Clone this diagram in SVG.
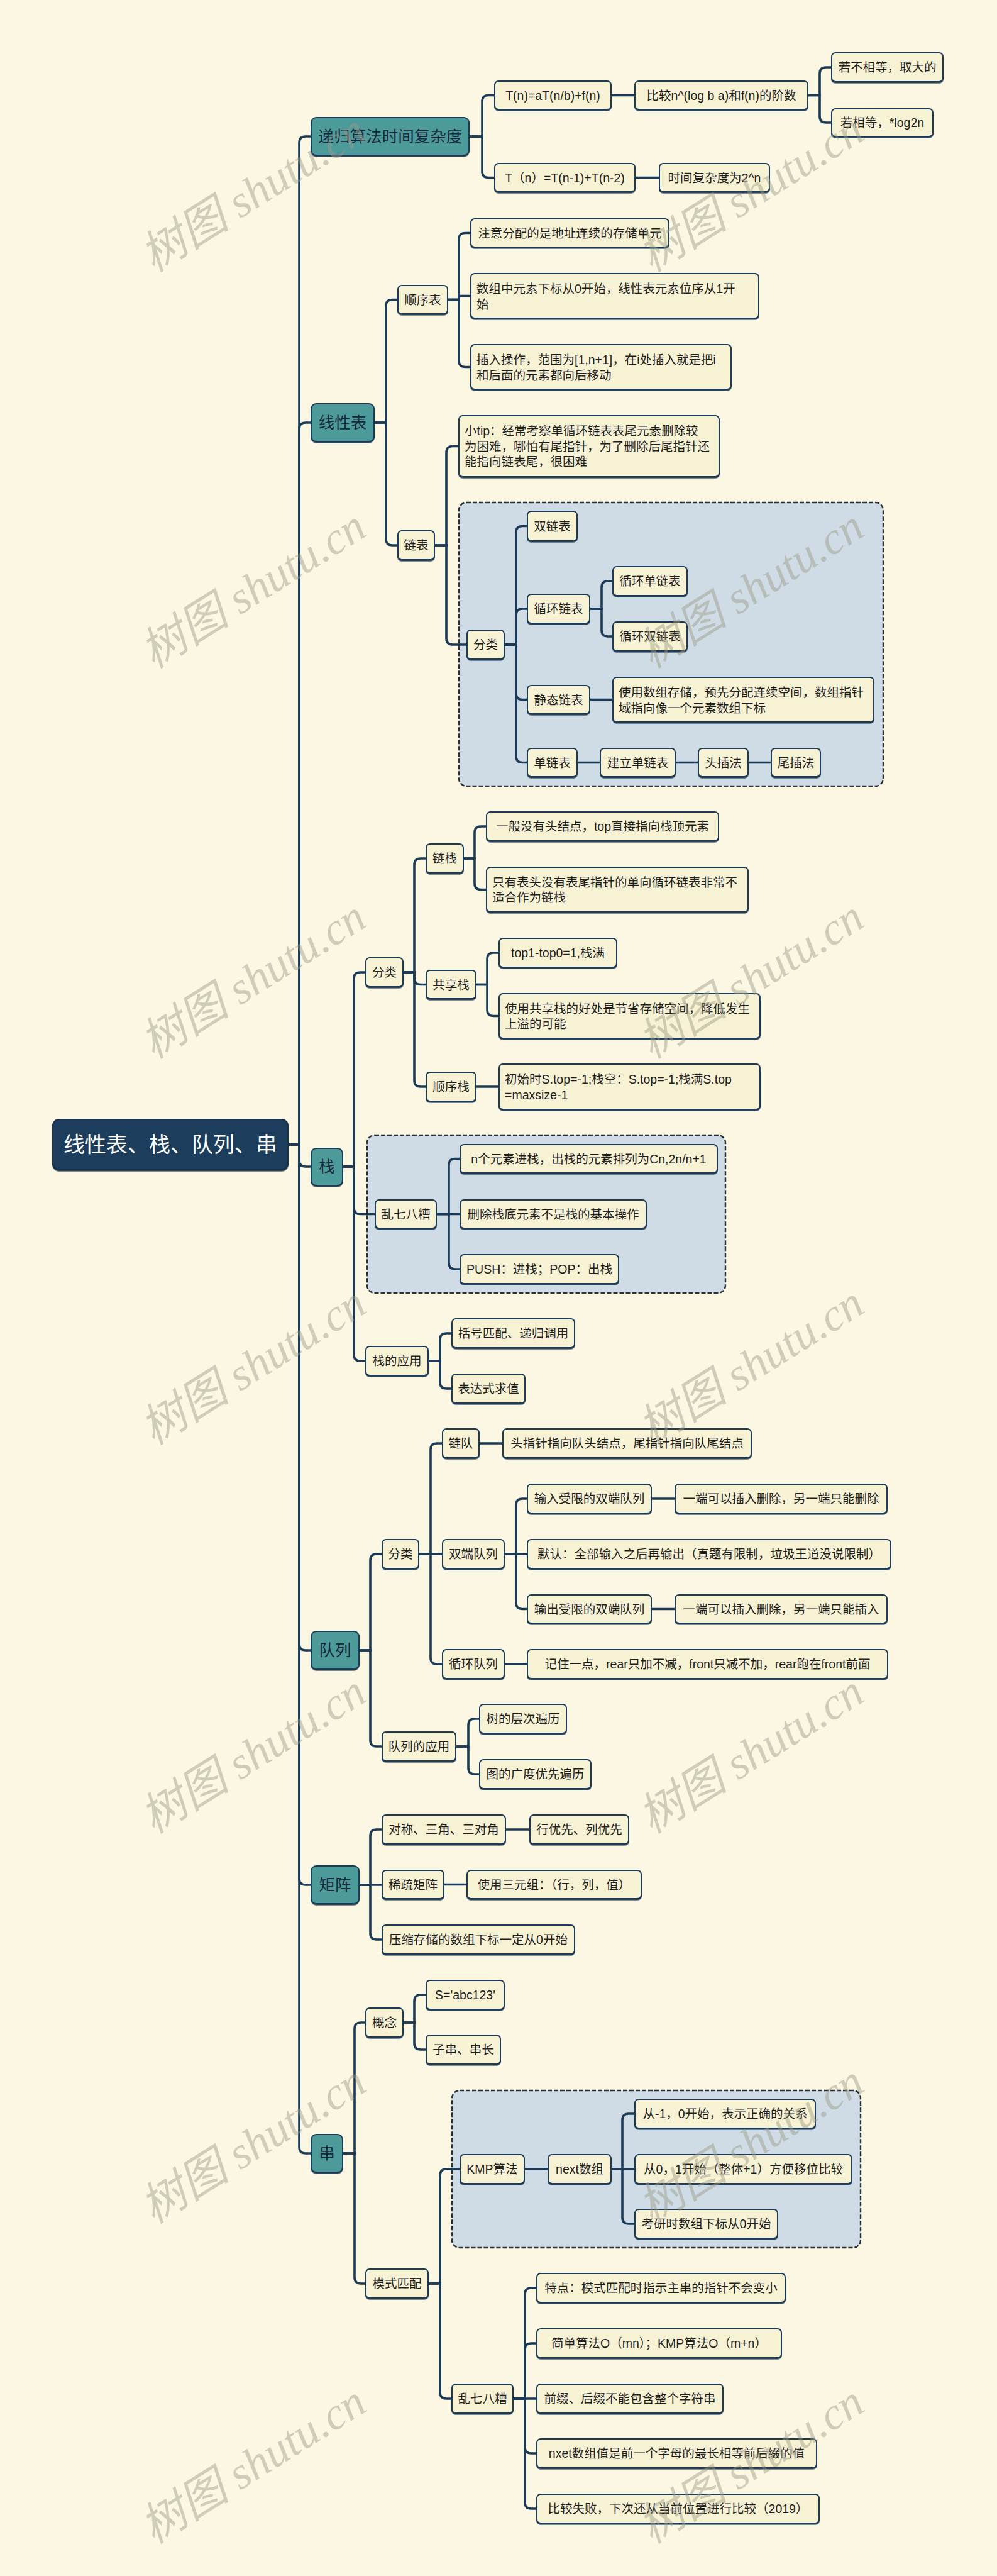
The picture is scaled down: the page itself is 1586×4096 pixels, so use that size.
<svg xmlns="http://www.w3.org/2000/svg" width="1586" height="4096" viewBox="0 0 1586 4096">
<defs>
<filter id="sh" x="-5%" y="-10%" width="110%" height="130%"><feDropShadow dx="0" dy="1.6" stdDeviation="0.4" flood-color="#17324b" flood-opacity="0.9"/></filter>
<style>
.bg{fill:#fbf7e2}
.grp{fill:#cfdce6;stroke:#2a2f33;stroke-width:2.4;stroke-dasharray:7 3}
.lf rect{fill:#f8f2d4;stroke:#1b3a57;stroke-width:2;filter:url(#sh)}
.tl rect{fill:#4d9a9b;stroke:#1b3a57;stroke-width:2;filter:url(#sh)}
.rt rect{fill:#1a3d5c;stroke:#15324b;stroke-width:2;filter:url(#sh)}
text{font-family:"Liberation Sans","Noto Sans CJK SC",sans-serif;fill:#1e1e1e;font-size:19.5px;dominant-baseline:central}
.c{text-anchor:middle}
.tl text{font-size:25.5px;fill:#16293a}
.rt text{font-size:34px;fill:#ffffff}
#connectors path{fill:none;stroke:#1b3a57;stroke-width:3.6;stroke-linecap:round}
.wm{font-family:"Liberation Serif","Noto Sans CJK SC",serif;font-style:italic;font-size:72px;fill:#9c9a86;opacity:0.45;text-anchor:middle;dominant-baseline:auto}
</style>
</defs>
<rect class="bg" x="0" y="0" width="1586" height="4096"/>

<g id="groups">
<rect class="grp" x="730" y="799" width="675" height="451" rx="12"/>
<rect class="grp" x="584" y="1805" width="570" height="251" rx="12"/>
<rect class="grp" x="719" y="3324" width="650" height="250" rx="12"/>
</g>

<g id="connectors">
<path d="M458 1820H476V227Q476 217 486 217H495"/>
<path d="M458 1820H476V682Q476 672 486 672H495"/>
<path d="M458 1820H476V1845Q476 1855 486 1855H495"/>
<path d="M458 1820H476V2614Q476 2624 486 2624H495"/>
<path d="M458 1820H476V2987Q476 2997 486 2997H495"/>
<path d="M458 1820H476V3414Q476 3424 486 3424H495"/>
<path d="M746 217H767V161.5Q767 151.5 777 151.5H787"/>
<path d="M746 217H767V272.5Q767 282.5 777 282.5H787"/>
<path d="M972 151.5H1010"/>
<path d="M1285 151.5H1304V117Q1304 107 1314 107H1323"/>
<path d="M1285 151.5H1304V185Q1304 195 1314 195H1323"/>
<path d="M1010 282.5H1049"/>
<path d="M595 672H614V486.5Q614 476.5 624 476.5H633"/>
<path d="M595 672H614V857Q614 867 624 867H633"/>
<path d="M712 476.5H730V380.5Q730 370.5 740 370.5H749"/>
<path d="M712 476.5H730V473.5Q730 470.5 733 470.5H749"/>
<path d="M712 476.5H730V573.5Q730 583.5 740 583.5H749"/>
<path d="M691 867H710V719.5Q710 709.5 720 709.5H730"/>
<path d="M691 867H710V1015Q710 1025 720 1025H743"/>
<path d="M802 1025H821V846.5Q821 836.5 831 836.5H839"/>
<path d="M802 1025H821V978Q821 968 831 968H839"/>
<path d="M802 1025H821V1102.5Q821 1112.5 831 1112.5H839"/>
<path d="M802 1025H821V1202.5Q821 1212.5 831 1212.5H839"/>
<path d="M938 968H957V934Q957 924 967 924H975"/>
<path d="M938 968H957V1002Q957 1012 967 1012H975"/>
<path d="M938 1112.5H975"/>
<path d="M918 1212.5H955"/>
<path d="M1074 1212.5H1111"/>
<path d="M1190 1212.5H1227"/>
<path d="M545 1855H563V1556Q563 1546 573 1546H582"/>
<path d="M545 1855H563V1920.5Q563 1930.5 573 1930.5H597"/>
<path d="M545 1855H563V2154Q563 2164 573 2164H582"/>
<path d="M641 1546H659V1375Q659 1365 669 1365H678"/>
<path d="M641 1546H659V1555.5Q659 1565.5 669 1565.5H678"/>
<path d="M641 1546H659V1718Q659 1728 669 1728H678"/>
<path d="M737 1365H755V1324Q755 1314 765 1314H774"/>
<path d="M737 1365H755V1404.5Q755 1414.5 765 1414.5H774"/>
<path d="M757 1565.5H775V1525Q775 1515 785 1515H794"/>
<path d="M757 1565.5H775V1605.5Q775 1615.5 785 1615.5H794"/>
<path d="M757 1728H794"/>
<path d="M694 1930.5H714V1852.5Q714 1842.5 724 1842.5H732"/>
<path d="M694 1930.5H732"/>
<path d="M694 1930.5H714V2008Q714 2018 724 2018H732"/>
<path d="M681 2164H700V2130Q700 2120 710 2120H719"/>
<path d="M681 2164H700V2198Q700 2208 710 2208H719"/>
<path d="M571 2624H589V2481Q589 2471 599 2471H608"/>
<path d="M571 2624H589V2767Q589 2777 599 2777H608"/>
<path d="M666 2471H685V2305Q685 2295 695 2295H704"/>
<path d="M666 2471H704"/>
<path d="M666 2471H685V2636Q685 2646 695 2646H704"/>
<path d="M762 2295H800"/>
<path d="M802 2471H821V2393Q821 2383 831 2383H839"/>
<path d="M802 2471H839"/>
<path d="M802 2471H821V2548.5Q821 2558.5 831 2558.5H839"/>
<path d="M1036 2383H1074"/>
<path d="M1036 2558.5H1074"/>
<path d="M802 2646H839"/>
<path d="M725 2777H745V2743Q745 2733 755 2733H763"/>
<path d="M725 2777H745V2811Q745 2821 755 2821H763"/>
<path d="M571 2997H589V2919Q589 2909 599 2909H608"/>
<path d="M571 2997H608"/>
<path d="M571 2997H589V3074Q589 3084 599 3084H608"/>
<path d="M804 2909H843"/>
<path d="M706 2996.5H743"/>
<path d="M545 3424H564V3226Q564 3216 574 3216H582"/>
<path d="M545 3424H564V3621Q564 3631 574 3631H582"/>
<path d="M641 3216H659V3182Q659 3172 669 3172H678"/>
<path d="M641 3216H659V3249Q659 3259 669 3259H678"/>
<path d="M681 3631H700V3459Q700 3449 710 3449H732"/>
<path d="M681 3631H700V3804Q700 3814 710 3814H719"/>
<path d="M834 3449H872"/>
<path d="M972 3449H990V3371Q990 3361 1000 3361H1010"/>
<path d="M972 3449H1010"/>
<path d="M972 3449H990V3526Q990 3536 1000 3536H1010"/>
<path d="M816 3814H835V3648Q835 3638 845 3638H854"/>
<path d="M816 3814H835V3736Q835 3726 845 3726H854"/>
<path d="M816 3814H854"/>
<path d="M816 3814H835V3891Q835 3901 845 3901H854"/>
<path d="M816 3814H835V3979Q835 3989 845 3989H854"/>
</g>

<g id="root" class="rt"><rect x="84" y="1780" width="374" height="80" rx="10"/><text class="c" x="271" y="1820">线性表、栈、队列、串</text></g>

<g id="n-digui" class="tl"><rect x="495" y="187" width="251" height="60" rx="8"/><text class="c" x="620.5" y="217">递归算法时间复杂度</text></g>
<g id="n-tn1" class="lf"><rect x="787" y="129" width="185" height="45" rx="6"/><text class="c" x="879.5" y="151.5">T(n)=aT(n/b)+f(n)</text></g>
<g id="n-bijiao" class="lf"><rect x="1010" y="129" width="275" height="45" rx="6"/><text class="c" x="1147.5" y="151.5">比较n^(log b a)和f(n)的阶数</text></g>
<g id="n-buxd" class="lf"><rect x="1323" y="84" width="177" height="46" rx="6"/><text class="c" x="1411.5" y="107">若不相等，取大的</text></g>
<g id="n-xd" class="lf"><rect x="1323" y="173" width="161" height="44" rx="6"/><text class="c" x="1403.5" y="195">若相等，*log2n</text></g>
<g id="n-tn2" class="lf"><rect x="787" y="260" width="223" height="45" rx="6"/><text class="c" x="898.5" y="282.5">T（n）=T(n-1)+T(n-2)</text></g>
<g id="n-2n" class="lf"><rect x="1049" y="260" width="175" height="45" rx="6"/><text class="c" x="1136.5" y="282.5">时间复杂度为2^n</text></g>

<g id="n-xxb" class="tl"><rect x="495" y="642" width="100" height="60" rx="8"/><text class="c" x="545" y="672">线性表</text></g>
<g id="n-sxb" class="lf"><rect x="633" y="454" width="79" height="45" rx="6"/><text class="c" x="672.5" y="476.5">顺序表</text></g>
<g id="n-zhuyi" class="lf"><rect x="749" y="348" width="315" height="45" rx="6"/><text class="c" x="906.5" y="370.5">注意分配的是地址连续的存储单元</text></g>
<g id="n-shuzu" class="lf"><rect x="749" y="435" width="458" height="71" rx="6"/><text x="758" y="458.5">数组中元素下标从0开始，线性表元素位序从1开</text><text x="758" y="483.5">始</text></g>
<g id="n-charu" class="lf"><rect x="749" y="548" width="414" height="71" rx="6"/><text x="758" y="571.5">插入操作，范围为[1,n+1]，在i处插入就是把i</text><text x="758" y="596.5">和后面的元素都向后移动</text></g>
<g id="n-lb" class="lf"><rect x="633" y="844" width="58" height="46" rx="6"/><text class="c" x="662" y="867">链表</text></g>
<g id="n-tip" class="lf"><rect x="730" y="661" width="414" height="97" rx="6"/><text x="739" y="685">小tip：经常考察单循环链表表尾元素删除较</text><text x="739" y="709.5">为困难，哪怕有尾指针，为了删除后尾指针还</text><text x="739" y="734">能指向链表尾，很困难</text></g>
<g id="n-fl1" class="lf"><rect x="743" y="1002" width="59" height="46" rx="6"/><text class="c" x="772.5" y="1025">分类</text></g>
<g id="n-slb" class="lf"><rect x="839" y="813" width="79" height="47" rx="6"/><text class="c" x="878.5" y="836.5">双链表</text></g>
<g id="n-xhlb" class="lf"><rect x="839" y="945" width="99" height="46" rx="6"/><text class="c" x="888.5" y="968">循环链表</text></g>
<g id="n-xhdlb" class="lf"><rect x="975" y="901" width="118" height="46" rx="6"/><text class="c" x="1034" y="924">循环单链表</text></g>
<g id="n-xhslb" class="lf"><rect x="975" y="989" width="118" height="46" rx="6"/><text class="c" x="1034" y="1012">循环双链表</text></g>
<g id="n-jtlb" class="lf"><rect x="839" y="1090" width="99" height="45" rx="6"/><text class="c" x="888.5" y="1112.5">静态链表</text></g>
<g id="n-jtdesc" class="lf"><rect x="975" y="1077" width="415" height="71" rx="6"/><text x="984" y="1100.5">使用数组存储，预先分配连续空间，数组指针</text><text x="984" y="1125.5">域指向像一个元素数组下标</text></g>
<g id="n-dlb" class="lf"><rect x="839" y="1190" width="79" height="45" rx="6"/><text class="c" x="878.5" y="1212.5">单链表</text></g>
<g id="n-jldlb" class="lf"><rect x="955" y="1190" width="119" height="45" rx="6"/><text class="c" x="1014.5" y="1212.5">建立单链表</text></g>
<g id="n-tcf" class="lf"><rect x="1111" y="1190" width="79" height="45" rx="6"/><text class="c" x="1150.5" y="1212.5">头插法</text></g>
<g id="n-wcf" class="lf"><rect x="1227" y="1190" width="78" height="45" rx="6"/><text class="c" x="1266" y="1212.5">尾插法</text></g>

<g id="n-zhan" class="tl"><rect x="495" y="1826" width="50" height="59" rx="8"/><text class="c" x="520" y="1855">栈</text></g>
<g id="n-fl2" class="lf"><rect x="582" y="1523" width="59" height="46" rx="6"/><text class="c" x="611.5" y="1546">分类</text></g>
<g id="n-lz" class="lf"><rect x="678" y="1342" width="59" height="46" rx="6"/><text class="c" x="707.5" y="1365">链栈</text></g>
<g id="n-lz1" class="lf"><rect x="774" y="1291" width="369" height="46" rx="6"/><text class="c" x="958.5" y="1314">一般没有头结点，top直接指向栈顶元素</text></g>
<g id="n-lz2" class="lf"><rect x="774" y="1379" width="416" height="71" rx="6"/><text x="783" y="1402.5">只有表头没有表尾指针的单向循环链表非常不</text><text x="783" y="1427">适合作为链栈</text></g>
<g id="n-gxz" class="lf"><rect x="678" y="1543" width="79" height="45" rx="6"/><text class="c" x="717.5" y="1565.5">共享栈</text></g>
<g id="n-gxz1" class="lf"><rect x="794" y="1492" width="187" height="46" rx="6"/><text class="c" x="887.5" y="1515">top1-top0=1,栈满</text></g>
<g id="n-gxz2" class="lf"><rect x="794" y="1580" width="415" height="71" rx="6"/><text x="803" y="1603.5">使用共享栈的好处是节省存储空间，降低发生</text><text x="803" y="1628">上溢的可能</text></g>
<g id="n-sxz" class="lf"><rect x="678" y="1705" width="79" height="46" rx="6"/><text class="c" x="717.5" y="1728">顺序栈</text></g>
<g id="n-sxz1" class="lf"><rect x="794" y="1692" width="415" height="72" rx="6"/><text x="803" y="1715.5">初始时S.top=-1;栈空：S.top=-1;栈满S.top</text><text x="803" y="1740.5">=maxsize-1</text></g>
<g id="n-lqbz1" class="lf"><rect x="597" y="1908" width="97" height="45" rx="6"/><text class="c" x="645.5" y="1930.5">乱七八糟</text></g>
<g id="n-lq1" class="lf"><rect x="732" y="1820" width="409" height="45" rx="6"/><text class="c" x="936.5" y="1842.5">n个元素进栈，出栈的元素排列为Cn,2n/n+1</text></g>
<g id="n-lq2" class="lf"><rect x="732" y="1908" width="296" height="45" rx="6"/><text class="c" x="880" y="1930.5">删除栈底元素不是栈的基本操作</text></g>
<g id="n-lq3" class="lf"><rect x="732" y="1995" width="252" height="46" rx="6"/><text class="c" x="858" y="2018">PUSH：进栈；POP：出栈</text></g>
<g id="n-zyy" class="lf"><rect x="582" y="2141" width="99" height="46" rx="6"/><text class="c" x="631.5" y="2164">栈的应用</text></g>
<g id="n-zyy1" class="lf"><rect x="719" y="2097" width="195" height="46" rx="6"/><text class="c" x="816.5" y="2120">括号匹配、递归调用</text></g>
<g id="n-zyy2" class="lf"><rect x="719" y="2185" width="116" height="46" rx="6"/><text class="c" x="777" y="2208">表达式求值</text></g>

<g id="n-dl" class="tl"><rect x="495" y="2594" width="76" height="60" rx="8"/><text class="c" x="533" y="2624">队列</text></g>
<g id="n-fl3" class="lf"><rect x="608" y="2448" width="58" height="46" rx="6"/><text class="c" x="637" y="2471">分类</text></g>
<g id="n-ld" class="lf"><rect x="704" y="2272" width="58" height="46" rx="6"/><text class="c" x="733" y="2295">链队</text></g>
<g id="n-ld1" class="lf"><rect x="800" y="2272" width="395" height="46" rx="6"/><text class="c" x="997.5" y="2295">头指针指向队头结点，尾指针指向队尾结点</text></g>
<g id="n-sddl" class="lf"><rect x="704" y="2448" width="98" height="46" rx="6"/><text class="c" x="753" y="2471">双端队列</text></g>
<g id="n-srsx" class="lf"><rect x="839" y="2360" width="197" height="46" rx="6"/><text class="c" x="937.5" y="2383">输入受限的双端队列</text></g>
<g id="n-srsx1" class="lf"><rect x="1074" y="2360" width="337" height="46" rx="6"/><text class="c" x="1242.5" y="2383">一端可以插入删除，另一端只能删除</text></g>
<g id="n-mr" class="lf"><rect x="839" y="2448" width="578" height="46" rx="6"/><text class="c" x="1128" y="2471">默认：全部输入之后再输出（真题有限制，垃圾王道没说限制）</text></g>
<g id="n-scsx" class="lf"><rect x="839" y="2536" width="197" height="45" rx="6"/><text class="c" x="937.5" y="2558.5">输出受限的双端队列</text></g>
<g id="n-scsx1" class="lf"><rect x="1074" y="2536" width="337" height="45" rx="6"/><text class="c" x="1242.5" y="2558.5">一端可以插入删除，另一端只能插入</text></g>
<g id="n-xhdl" class="lf"><rect x="704" y="2623" width="98" height="46" rx="6"/><text class="c" x="753" y="2646">循环队列</text></g>
<g id="n-xhdl1" class="lf"><rect x="839" y="2623" width="573" height="46" rx="6"/><text class="c" x="1125.5" y="2646">记住一点，rear只加不减，front只减不加，rear跑在front前面</text></g>
<g id="n-dlyy" class="lf"><rect x="608" y="2754" width="117" height="46" rx="6"/><text class="c" x="666.5" y="2777">队列的应用</text></g>
<g id="n-dlyy1" class="lf"><rect x="763" y="2710" width="138" height="46" rx="6"/><text class="c" x="832" y="2733">树的层次遍历</text></g>
<g id="n-dlyy2" class="lf"><rect x="763" y="2798" width="177" height="46" rx="6"/><text class="c" x="851.5" y="2821">图的广度优先遍历</text></g>

<g id="n-jz" class="tl"><rect x="495" y="2967" width="76" height="60" rx="8"/><text class="c" x="533" y="2997">矩阵</text></g>
<g id="n-dc" class="lf"><rect x="608" y="2886" width="196" height="46" rx="6"/><text class="c" x="706" y="2909">对称、三角、三对角</text></g>
<g id="n-dc1" class="lf"><rect x="843" y="2886" width="157" height="46" rx="6"/><text class="c" x="921.5" y="2909">行优先、列优先</text></g>
<g id="n-xs" class="lf"><rect x="608" y="2974" width="98" height="45" rx="6"/><text class="c" x="657" y="2996.5">稀疏矩阵</text></g>
<g id="n-xs1" class="lf"><rect x="743" y="2974" width="277" height="45" rx="6"/><text class="c" x="881.5" y="2996.5">使用三元组：（行，列，值）</text></g>
<g id="n-ys" class="lf"><rect x="608" y="3061" width="306" height="46" rx="6"/><text class="c" x="761" y="3084">压缩存储的数组下标一定从0开始</text></g>

<g id="n-chuan" class="tl"><rect x="495" y="3394" width="50" height="60" rx="8"/><text class="c" x="520" y="3424">串</text></g>
<g id="n-gn" class="lf"><rect x="582" y="3193" width="59" height="46" rx="6"/><text class="c" x="611.5" y="3216">概念</text></g>
<g id="n-gn1" class="lf"><rect x="678" y="3149" width="124" height="46" rx="6"/><text class="c" x="740" y="3172">S='abc123'</text></g>
<g id="n-gn2" class="lf"><rect x="678" y="3236" width="118" height="46" rx="6"/><text class="c" x="737" y="3259">子串、串长</text></g>
<g id="n-mspp" class="lf"><rect x="582" y="3608" width="99" height="46" rx="6"/><text class="c" x="631.5" y="3631">模式匹配</text></g>
<g id="n-kmp" class="lf"><rect x="732" y="3426" width="102" height="46" rx="6"/><text class="c" x="783" y="3449">KMP算法</text></g>
<g id="n-next" class="lf"><rect x="872" y="3426" width="100" height="46" rx="6"/><text class="c" x="922" y="3449">next数组</text></g>
<g id="n-next1" class="lf"><rect x="1010" y="3338" width="287" height="46" rx="6"/><text class="c" x="1153.5" y="3361">从-1，0开始，表示正确的关系</text></g>
<g id="n-next2" class="lf"><rect x="1010" y="3426" width="345" height="46" rx="6"/><text class="c" x="1182.5" y="3449">从0，1开始（整体+1）方便移位比较</text></g>
<g id="n-next3" class="lf"><rect x="1010" y="3513" width="227" height="46" rx="6"/><text class="c" x="1123.5" y="3536">考研时数组下标从0开始</text></g>
<g id="n-lqbz2" class="lf"><rect x="719" y="3791" width="97" height="46" rx="6"/><text class="c" x="767.5" y="3814">乱七八糟</text></g>
<g id="n-c1" class="lf"><rect x="854" y="3615" width="395" height="46" rx="6"/><text class="c" x="1051.5" y="3638">特点：模式匹配时指示主串的指针不会变小</text></g>
<g id="n-c2" class="lf"><rect x="854" y="3703" width="389" height="46" rx="6"/><text class="c" x="1048.5" y="3726">简单算法O（mn）；KMP算法O（m+n）</text></g>
<g id="n-c3" class="lf"><rect x="854" y="3791" width="296" height="46" rx="6"/><text class="c" x="1002" y="3814">前缀、后缀不能包含整个字符串</text></g>
<g id="n-c4" class="lf"><rect x="854" y="3878" width="445" height="46" rx="6"/><text class="c" x="1076.5" y="3901">nxet数组值是前一个字母的最长相等前后缀的值</text></g>
<g id="n-c5" class="lf"><rect x="854" y="3966" width="449" height="46" rx="6"/><text class="c" x="1078.5" y="3989">比较失败，下次还从当前位置进行比较（2019）</text></g>

<g id="watermark">
<text class="wm" transform="rotate(-32 405 310)" x="405" y="330">树图 shutu.cn</text>
<text class="wm" transform="rotate(-32 1197 310)" x="1197" y="330">树图 shutu.cn</text>
<text class="wm" transform="rotate(-32 405 940)" x="405" y="960">树图 shutu.cn</text>
<text class="wm" transform="rotate(-32 1197 940)" x="1197" y="960">树图 shutu.cn</text>
<text class="wm" transform="rotate(-32 405 1561)" x="405" y="1581">树图 shutu.cn</text>
<text class="wm" transform="rotate(-32 1197 1561)" x="1197" y="1581">树图 shutu.cn</text>
<text class="wm" transform="rotate(-32 405 2175)" x="405" y="2195">树图 shutu.cn</text>
<text class="wm" transform="rotate(-32 1197 2175)" x="1197" y="2195">树图 shutu.cn</text>
<text class="wm" transform="rotate(-32 405 2793)" x="405" y="2813">树图 shutu.cn</text>
<text class="wm" transform="rotate(-32 1197 2793)" x="1197" y="2813">树图 shutu.cn</text>
<text class="wm" transform="rotate(-32 405 3413)" x="405" y="3433">树图 shutu.cn</text>
<text class="wm" transform="rotate(-32 1197 3413)" x="1197" y="3433">树图 shutu.cn</text>
<text class="wm" transform="rotate(-32 405 3922)" x="405" y="3942">树图 shutu.cn</text>
<text class="wm" transform="rotate(-32 1197 3922)" x="1197" y="3942">树图 shutu.cn</text>
</g>
</svg>
